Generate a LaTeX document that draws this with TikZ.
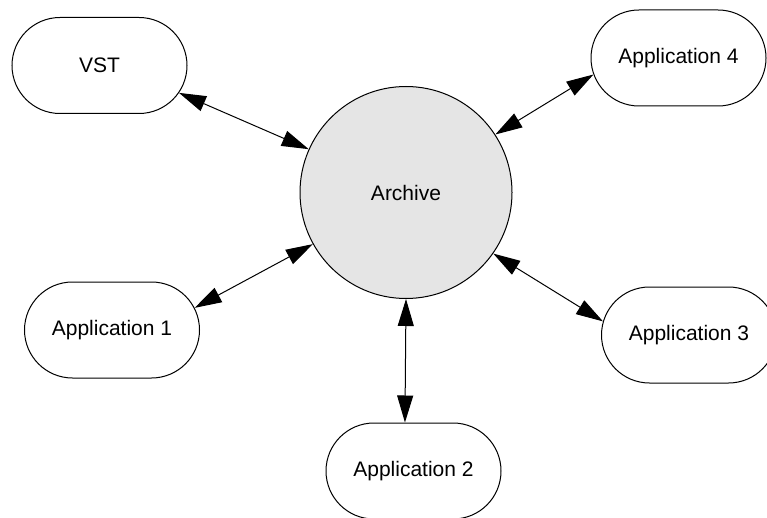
\documentclass[tikz,border=0pt]{standalone}
\usepackage{fontspec}
\setmainfont{Liberation Sans}
\usetikzlibrary{shapes.misc,arrows.meta}

\begin{document}
\begin{tikzpicture}[x=1pt, y=-1pt, line width=1pt, font=\fontsize{21}{25}\selectfont,
  app/.style={draw, rounded rectangle, minimum width=175pt, minimum height=96pt, inner sep=0pt},
  store/.style={draw, circle, fill=gray!20, minimum size=212pt, inner sep=0pt},
  link/.style={{Triangle[length=27pt, width=16pt]}-{Triangle[length=27pt, width=16pt]}}]
\useasboundingbox (0,0) rectangle (767,518);
% Archive
\node[store] (archive) at (406,192.5) {Archive};
% Applications
\foreach \name/\x/\y/\txt in {vst/99.5/65.5/VST, app4/678.5/58/Application 4,
    app1/112/330/Application 1, app3/689/335/Application 3, app2/413.5/471/Application 2} {
  \node[app] (\name) at (\x,\y) {\txt};
}
% Links
\foreach \name/\a/\b in {vst/156.8/341.8, app4/33/191.1, app1/209.4/15.1, app3/325.5/171.5, app2/270/100} {
  \draw[link] (archive.\a) -- (\name.\b);
}
\end{tikzpicture}
\end{document}
